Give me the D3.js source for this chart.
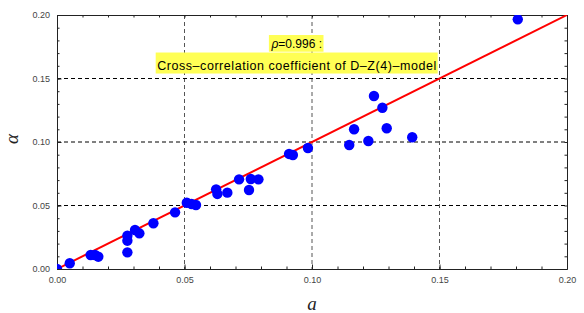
<!DOCTYPE html>
<html>
<head>
<meta charset="utf-8">
<script src="https://cdn.jsdelivr.net/npm/d3@7"></script>
<style>
  body { margin: 0; background: #fff; }
  svg { display: block; }
</style>
</head>
<body>
<svg id="chart" width="584" height="313"></svg>
<script>
// measured a vs fitted alpha
const aValues = [0.000, 0.005, 0.0132, 0.0149, 0.0162, 0.0276, 0.0276, 0.0276, 0.0306, 0.0323,
  0.0378, 0.0463, 0.0509, 0.0528, 0.0545, 0.0624, 0.0629, 0.0668, 0.0714, 0.0753, 0.076, 0.079,
  0.091, 0.0925, 0.0984, 0.1146, 0.1165, 0.1221, 0.1243, 0.1276, 0.1293, 0.1393, 0.1807]
const alphaValues = [0.000, 0.0045, 0.011, 0.011, 0.0097, 0.0131, 0.0223, 0.0262, 0.0307, 0.0281,
  0.036, 0.0446, 0.0522, 0.0512, 0.0504, 0.0627, 0.0591, 0.0601, 0.0706, 0.0622, 0.0709, 0.0706,
  0.0906, 0.0898, 0.0953, 0.0976, 0.11, 0.1008, 0.1362, 0.127, 0.1108, 0.1037, 0.1966]
const fitLine = [[0, 0], [0.2, 0.2]]
const majorTicks = [0, 0.05, 0.10, 0.15, 0.20]
const minorTicks = d3.range(0, 21).map(i => i / 100)
const gridTicks = [0.05, 0.10, 0.15]
const labelLines = ['=0.996 :', 'Cross\u2013correlation coefficient of D\u2013Z(4)\u2013model']
const labelPos = [0.094, 0.174]

const svg = d3.select('#chart')
const margin = { left: 57, right: 17, top: 15, bottom: 44 }
const width = 584 - margin.left - margin.right
const height = 313 - margin.top - margin.bottom

const x = d3.scaleLinear().domain([0, 0.2]).range([0, width])
const y = d3.scaleLinear().domain([0, 0.2]).range([height, 0])

const g = svg.append('g').attr('transform', `translate(${margin.left},${margin.top})`)

g.append('defs').append('clipPath').attr('id', 'plotClip')
  .append('rect').attr('width', width).attr('height', height)

// dashed grid
g.selectAll('.vgrid').data(gridTicks).enter().append('line')
  .attr('x1', d => x(d)).attr('x2', d => x(d))
  .attr('y1', 0).attr('y2', height)
  .attr('stroke', '#555').attr('stroke-dasharray', '4,3')
g.selectAll('.hgrid').data(gridTicks).enter().append('line')
  .attr('x1', 0).attr('x2', width)
  .attr('y1', d => y(d)).attr('y2', d => y(d))
  .attr('stroke', '#000').attr('stroke-dasharray', '4,3')

// frame axes, ticks point inward
const styleAxis = sel => {
  sel.select('.domain').attr('stroke', '#222')
  sel.selectAll('.tick line').attr('stroke', '#222')
  sel.selectAll('text').attr('fill', '#444').attr('font-size', '9px')
    .attr('font-family', 'Liberation Sans, Arial, sans-serif')
}
const fmt = d3.format('.2f')

g.append('g').attr('transform', `translate(0,${height})`)
  .call(d3.axisBottom(x).tickValues(minorTicks).tickSize(-2.5).tickFormat('').tickSizeOuter(0)).call(styleAxis)
g.append('g').attr('transform', `translate(0,${height})`)
  .call(d3.axisBottom(x).tickValues(majorTicks).tickSize(-4.5).tickPadding(8).tickFormat(fmt).tickSizeOuter(0)).call(styleAxis)
g.append('g')
  .call(d3.axisLeft(y).tickValues(minorTicks).tickSize(-2.5).tickFormat('').tickSizeOuter(0)).call(styleAxis)
g.append('g')
  .call(d3.axisLeft(y).tickValues(majorTicks).tickSize(-4.5).tickPadding(7).tickFormat(fmt).tickSizeOuter(0)).call(styleAxis)
g.append('g')
  .call(d3.axisTop(x).tickValues(minorTicks).tickSize(-2.5).tickFormat('').tickSizeOuter(0)).call(styleAxis)
g.append('g').attr('transform', `translate(${width},0)`)
  .call(d3.axisRight(y).tickValues(minorTicks).tickSize(-2.5).tickFormat('').tickSizeOuter(0)).call(styleAxis)

// fitted line
g.append('path')
  .datum(fitLine)
  .attr('d', d3.line().x(d => x(d[0])).y(d => y(d[1])))
  .attr('stroke', '#ff0000').attr('stroke-width', 2).attr('fill', 'none')
  .attr('clip-path', 'url(#plotClip)')

// data points
g.append('g').attr('clip-path', 'url(#plotClip)')
  .selectAll('circle').data(aValues).enter().append('circle')
  .attr('cx', d => x(d))
  .attr('cy', (d, i) => y(alphaValues[i]))
  .attr('r', 5.2)
  .attr('fill', '#0000ff')

// annotation with highlighted lines
const label = g.append('g')
  .attr('transform', `translate(${x(labelPos[0])},${y(labelPos[1])})`)
  .attr('font-family', 'Liberation Sans, Arial, sans-serif')
const lineOffsets = [0, 22]
const fontSizes = ['12px', '12.5px']
const boxes = [{ top: -13, h: 16.7 }, { top: -17.5, h: 21 }]
labelLines.forEach((txt, i) => {
  const row = label.append('g').attr('transform', `translate(0,${lineOffsets[i]})`)
  const bg = row.append('rect').attr('fill', '#ffff55')
  const t = row.append('text').attr('text-anchor', 'middle').attr('fill', '#000')
    .attr('font-size', fontSizes[i])
  if (i === 0) {
    t.append('tspan').attr('font-style', 'italic').text('\u03c1')
    t.append('tspan').text(txt)
  } else {
    t.text(txt).attr('textLength', 279).attr('lengthAdjust', 'spacing')
  }
  const bb = t.node().getBBox()
  bg.attr('x', bb.x - 1.5).attr('y', boxes[i].top).attr('width', bb.width + 3).attr('height', boxes[i].h)
})

// axis titles
svg.append('text')
  .attr('x', margin.left + x(0.1)).attr('y', 310)
  .attr('text-anchor', 'middle')
  .attr('font-family', 'Liberation Serif, Times New Roman, serif')
  .attr('font-style', 'italic').attr('font-size', '19px')
  .attr('fill', '#222')
  .text('a')
svg.append('text')
  .attr('transform', `translate(18,${margin.top + y(0.1) - 3}) rotate(-90)`)
  .attr('text-anchor', 'middle')
  .attr('font-family', 'Liberation Serif, Times New Roman, serif')
  .attr('font-style', 'italic').attr('font-size', '19px')
  .attr('fill', '#222')
  .text('\u03b1')
</script>
</body>
</html>
